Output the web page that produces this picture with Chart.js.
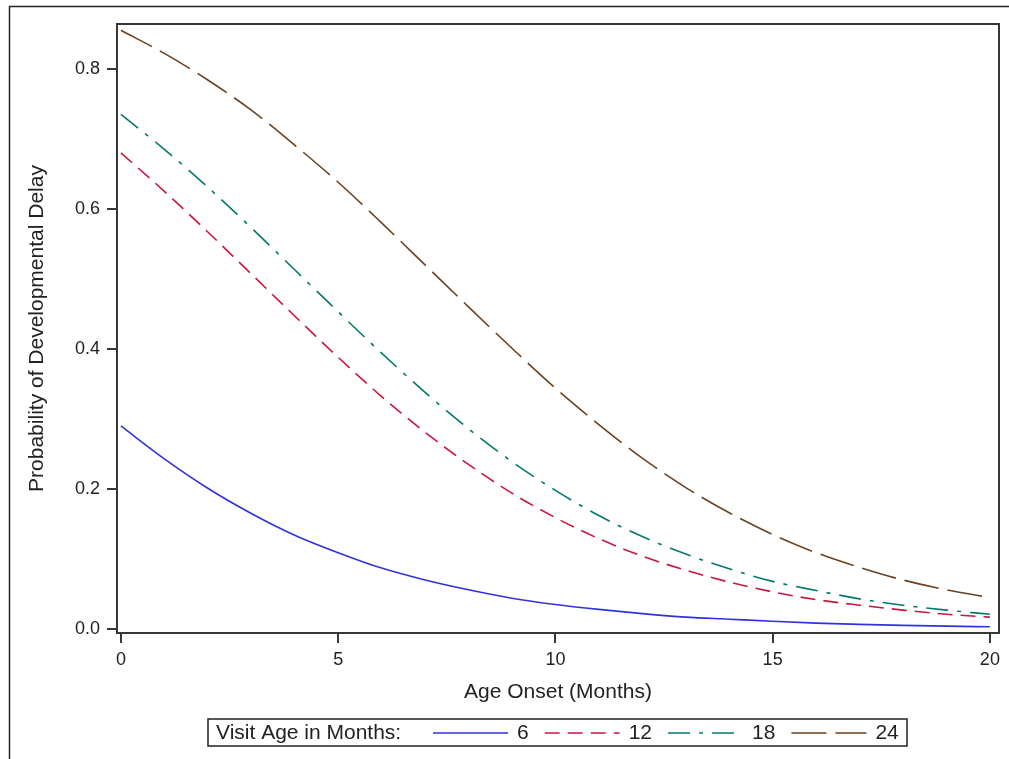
<!DOCTYPE html>
<html>
<head>
<meta charset="utf-8">
<title>Probability of Developmental Delay</title>
<script src="https://cdn.jsdelivr.net/npm/chart.js@4.4.1/dist/chart.umd.min.js"></script>
<style>
  html, body { margin: 0; padding: 0; background: #fff; }
  canvas { display: block; }
</style>
</head>
<body>
<canvas id="delayChart" width="1009" height="759"></canvas>
<script>
// Age at onset (months) and predicted probability for each visit age
const ageOnset = [0, 1, 2, 3, 4, 5, 6, 7, 8, 9, 10, 11, 12, 13, 14, 15, 16, 17, 18, 19, 20];
const visit6  = [0.290, 0.243, 0.201, 0.165, 0.134, 0.109, 0.087, 0.070, 0.056, 0.044, 0.035,
                 0.028, 0.022, 0.017, 0.014, 0.011, 0.0084, 0.0066, 0.0052, 0.0041, 0.0032];
const visit12 = [0.680, 0.625, 0.567, 0.507, 0.447, 0.388, 0.332, 0.281, 0.235, 0.194, 0.159,
                 0.129, 0.104, 0.084, 0.067, 0.053, 0.042, 0.034, 0.027, 0.021, 0.017];
const visit18 = [0.735, 0.685, 0.631, 0.573, 0.513, 0.453, 0.394, 0.338, 0.286, 0.239, 0.198,
                 0.162, 0.132, 0.107, 0.086, 0.068, 0.055, 0.043, 0.034, 0.027, 0.021];
const visit24 = [0.855, 0.822, 0.784, 0.741, 0.691, 0.638, 0.580, 0.520, 0.460, 0.401, 0.344,
                 0.292, 0.244, 0.202, 0.166, 0.135, 0.109, 0.088, 0.070, 0.056, 0.045];

const visitLabels = ['6', '12', '18', '24'];
const xTicks = [0, 5, 10, 15, 20];
const yTicks = [0, 0.2, 0.4, 0.6, 0.8];

const FONT = '"Liberation Sans", Arial, sans-serif';
const INK = '#222';

// pair up x and y for the linear x axis
function toPoints(values) {
    return ageOnset.map((x, i) => ({ x: x, y: values[i] }));
}

const seriesStyle = [
    { data: visit6,  color: '#3131e0', dash: [] },
    { data: visit12, color: '#c8173f', dash: [15, 8] },
    { data: visit18, color: '#04786c', dash: [22, 9, 4, 9] },
    { data: visit24, color: '#6b4220', dash: [35, 9] }
];

const datasets = seriesStyle.map((s, i) => ({
    label: visitLabels[i],
    data: toPoints(s.data),
    borderColor: s.color,
    backgroundColor: s.color,
    borderDash: s.dash,
    borderWidth: 1.6,
    pointRadius: 0,
    cubicInterpolationMode: 'monotone',
    fill: false
}));

// outer frame, plot box and the boxed legend at the bottom
const framePlugin = {
    id: 'frame',
    beforeDraw(chart) {
        const ctx = chart.ctx;
        ctx.save();
        ctx.strokeStyle = INK;
        ctx.lineWidth = 1.5;
        ctx.beginPath();
        ctx.moveTo(9.5, chart.height);
        ctx.lineTo(9.5, 6.5);
        ctx.lineTo(chart.width, 6.5);
        ctx.stroke();
        ctx.restore();
    },
    afterDraw(chart) {
        const ctx = chart.ctx;
        const a = chart.chartArea;
        ctx.save();
        ctx.strokeStyle = '#383838';
        ctx.lineWidth = 2;
        ctx.strokeRect(a.left, a.top, a.right - a.left, a.bottom - a.top);

        // legend box
        const boxX = 208, boxY = 719, boxW = 699, boxH = 27;
        const midY = boxY + boxH / 2 + 0.5;
        ctx.lineWidth = 1.5;
        ctx.strokeStyle = INK;
        ctx.strokeRect(boxX, boxY, boxW, boxH);

        ctx.font = '21px ' + FONT;
        ctx.fillStyle = INK;
        ctx.textBaseline = 'middle';
        ctx.textAlign = 'left';
        ctx.fillText('Visit Age in Months:', 216, midY);

        let x = 433;
        chart.data.datasets.forEach(ds => {
            ctx.strokeStyle = ds.borderColor;
            ctx.lineWidth = 1.6;
            ctx.setLineDash(ds.borderDash);
            ctx.beginPath();
            ctx.moveTo(x, midY);
            ctx.lineTo(x + 75, midY);
            ctx.stroke();
            ctx.setLineDash([]);
            x += 75 + 9;
            ctx.fillStyle = INK;
            ctx.fillText(ds.label, x, midY);
            x += ctx.measureText(ds.label).width + 16;
        });
        ctx.restore();
    }
};

new Chart(document.getElementById('delayChart'), {
    type: 'line',
    data: { datasets: datasets },
    options: {
        responsive: false,
        animation: false,
        layout: { padding: { left: 0, top: 24, right: 10, bottom: 0 } },
        plugins: {
            legend: { display: false },
            tooltip: { enabled: false }
        },
        scales: {
            x: {
                type: 'linear',
                min: -0.09,
                max: 20.21,
                afterFit: (scale) => { scale.height = 126; },
                afterBuildTicks: (scale) => { scale.ticks = xTicks.map(v => ({ value: v })); },
                grid: { drawOnChartArea: false, drawTicks: true, tickLength: 10, color: '#383838', lineWidth: 2 },
                border: { display: false },
                ticks: {
                    padding: 6,
                    color: INK,
                    font: { family: FONT, size: 18 },
                    maxRotation: 0,
                    callback: (v) => v
                },
                title: {
                    display: true,
                    text: 'Age Onset (Months)',
                    color: INK,
                    font: { family: FONT, size: 21 },
                    padding: { top: 0, bottom: 54 }
                }
            },
            y: {
                min: -0.0057,
                max: 0.864,
                afterFit: (scale) => { scale.width = 117; },
                afterBuildTicks: (scale) => { scale.ticks = yTicks.map(v => ({ value: v })); },
                grid: { drawOnChartArea: false, drawTicks: true, tickLength: 10, color: '#383838', lineWidth: 2 },
                border: { display: false },
                ticks: {
                    padding: 7,
                    color: INK,
                    font: { family: FONT, size: 18 },
                    callback: (v) => v.toFixed(1)
                },
                title: {
                    display: true,
                    text: 'Probability of Developmental Delay',
                    color: INK,
                    font: { family: FONT, size: 21 },
                    padding: { top: 25, bottom: 0 }
                }
            }
        }
    },
    plugins: [framePlugin]
});
</script>
</body>
</html>
